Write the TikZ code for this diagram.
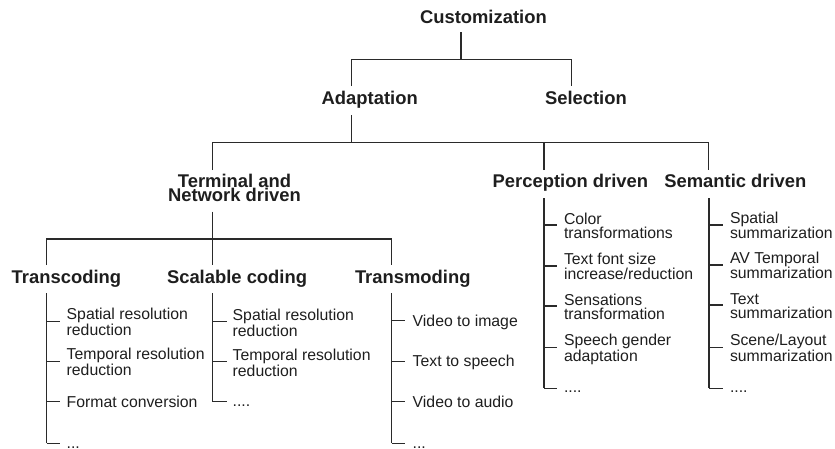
\documentclass[tikz,border=0pt]{standalone}
\usepackage{fontspec}
\setmainfont{Liberation Sans}
\definecolor{txt}{HTML}{1E1E1E}
\definecolor{lnc}{HTML}{2A2A2A}
\begin{document}
\begin{tikzpicture}[x=1pt,y=-1pt,
  ttl/.style={font=\bfseries\fontsize{18.4}{14}\selectfont, inner sep=0pt, outer sep=0pt, anchor=base west, text=txt},
  ttlc/.style={ttl, anchor=base, align=center},
  itm/.style={font=\fontsize{15.8}{14.5}\selectfont, inner sep=0pt, outer sep=0pt, anchor=base west, align=left, text=txt},
  ln/.style={draw=lnc, line width=1.2pt}]
\useasboundingbox (0,0) rectangle (835,448);

% ---- level 0 / 1
\node[ttl] (cust) at (420,23.3) {Customization};
\node[ttl] (adapt) at (321.7,104.5) {Adaptation};
\node[ttl] (sel) at (545,104.5) {Selection};
\coordinate (custS) at (461,32.3);
\coordinate (custJ) at (461,59.3);
\coordinate (adaptN) at (351.7,86);
\coordinate (selN) at (571.7,86);
\draw[ln] (custS) -- (custJ);
\draw[ln] (adaptN) |- (custJ) -| (selN);

% ---- level 2 (base anchor of multi-line node = last line)
\node[ttlc] (term) at (234.5,201.7) {Terminal and\\Network driven};
\node[ttl] (perc) at (492.7,187.3) {Perception driven};
\node[ttl] (sem) at (664.3,187.3) {Semantic driven};
\coordinate (adaptS) at (351.7,115);
\coordinate (adaptJ) at (351.7,142.7);
\coordinate (termN) at (212.7,170);
\coordinate (percN) at (544,170);
\coordinate (semN) at (708.7,170);
\draw[ln] (adaptS) -- (adaptJ);
\draw[ln] (termN) |- (adaptJ) -| (semN);
\draw[ln] (percN) -- (percN |- adaptJ);

% ---- level 3
\node[ttl] (trc) at (11.7,283.3) {Transcoding};
\node[ttl] (scal) at (167,283.3) {Scalable coding};
\node[ttl] (trm) at (355,283.3) {Transmoding};
\coordinate (termS) at (212.7,211.7);
\coordinate (termJ) at (212.7,239);
\coordinate (trcN) at (46.7,265);
\coordinate (scalN) at (212.7,265);
\coordinate (trmN) at (391.7,265);
\draw[ln] (termS) -- (termJ) -- (scalN);
\draw[ln] (trcN) |- (termJ) -| (trmN);

% ---- Transcoding list
\coordinate (trcT) at (46.7,293.3);
\coordinate (trcB) at (46.7,443.3);
\draw[ln] (trcT) -- (trcB);
\foreach \y in {321.3,361.7,401.7,443.3} \draw[ln] (trcT |- 0,\y) -- ++(13.3,0);
\node[itm] (trc1) at (66.7,335.2) {Spatial resolution\\reduction};
\node[itm] (trc2) at (66.7,375.7) {Temporal resolution\\reduction};
\node[itm] (trc3) at (66.7,407.4) {Format conversion};
\node[itm] (trc4) at (66.7,448.6) {...};

% ---- Scalable coding list
\coordinate (scalT) at (212.7,293.3);
\coordinate (scalB) at (212.7,401.7);
\draw[ln] (scalT) -- (scalB);
\foreach \y in {321.5,361.5,401.7} \draw[ln] (scalT |- 0,\y) -- ++(14,0);
\node[itm] (scal1) at (232.7,336.2) {Spatial resolution\\reduction};
\node[itm] (scal2) at (232.7,376.2) {Temporal resolution\\reduction};
\node[itm] (scal3) at (232.7,406.5) {....};

% ---- Transmoding list
\coordinate (trmT) at (391.7,293.3);
\coordinate (trmB) at (391.7,443.3);
\draw[ln] (trmT) -- (trmB);
\foreach \y in {320.5,361.2,401.7,443.3} \draw[ln] (trmT |- 0,\y) -- ++(13.3,0);
\node[itm] (trm1) at (412.7,326.0) {Video to image};
\node[itm] (trm2) at (412.7,366.7) {Text to speech};
\node[itm] (trm3) at (412.7,407.2) {Video to audio};
\node[itm] (trm4) at (412.7,448.6) {...};

% ---- Perception list
\coordinate (percT) at (544,198.3);
\coordinate (percB) at (544,388.3);
\draw[ln] (percT) -- (percB);
\foreach \y in {225,266,306,347.5,388.3} \draw[ln] (percT |- 0,\y) -- ++(13.3,0);
\node[itm] (perc1) at (564,238.8) {Color\\transformations};
\node[itm] (perc2) at (564,279.3) {Text font size\\increase/reduction};
\node[itm] (perc3) at (564,319.8) {Sensations\\transformation};
\node[itm] (perc4) at (564,361.2) {Speech gender\\adaptation};
\node[itm] (perc5) at (564,392.5) {....};

% ---- Semantic list
\coordinate (semT) at (709,198.3);
\coordinate (semB) at (709,388.3);
\draw[ln] (semT) -- (semB);
\foreach \y in {225,265,305,347.5,388.3} \draw[ln] (semT |- 0,\y) -- ++(14.3,0);
\node[itm] (sem1) at (730,238.8) {Spatial\\summarization};
\node[itm] (sem2) at (730,278.8) {AV Temporal\\summarization};
\node[itm] (sem3) at (730,318.8) {Text\\summarization};
\node[itm] (sem4) at (730,361.2) {Scene/Layout\\summarization};
\node[itm] (sem5) at (730,392.5) {....};
\end{tikzpicture}
\end{document}
